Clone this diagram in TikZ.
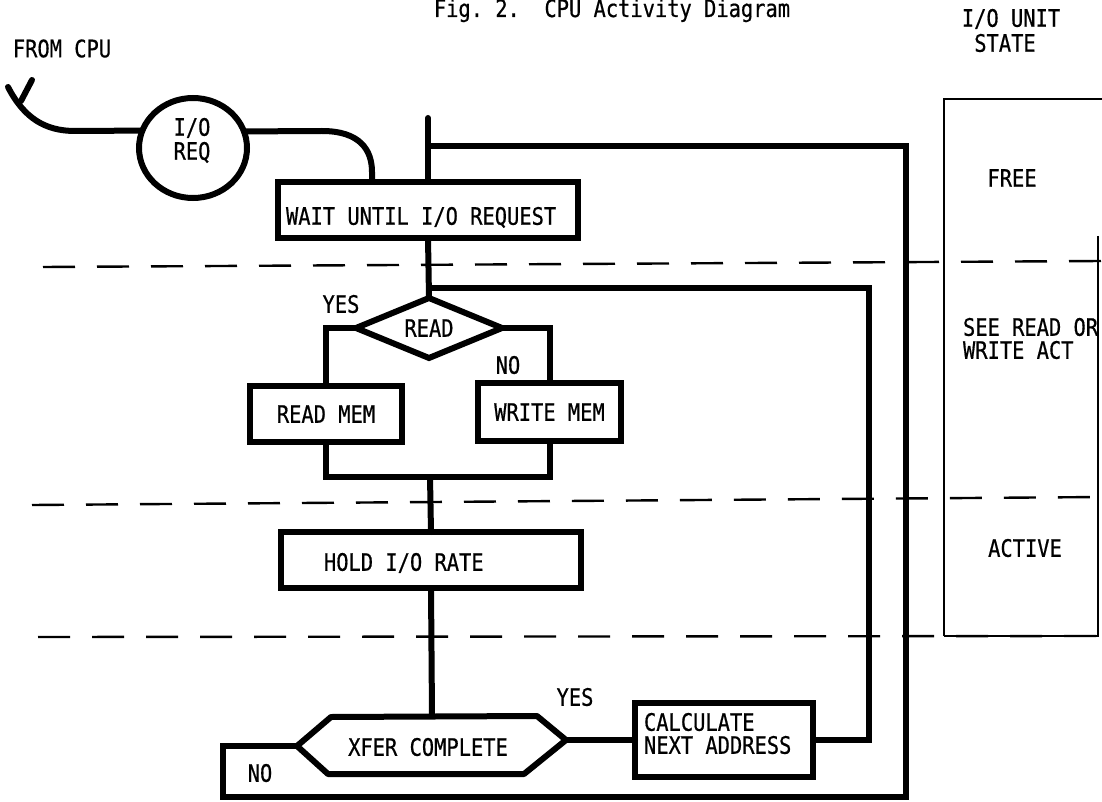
\documentclass[tikz,border=0pt]{standalone}
\usepackage{fontspec}
\newfontfamily\tw[FakeStretch=0.85,FakeBold=0.6]{DejaVu Sans Mono}
\usetikzlibrary{shapes.geometric}
\begin{document}
\begin{tikzpicture}[x=1pt,y=-1pt,
  every node/.style={font={\tw\fontsize{24pt}{25pt}\selectfont\frenchspacing}, inner sep=0pt, outer sep=0pt},
  lbl/.style={text height=17.5pt, text depth=0pt},
  flow/.style={line width=6pt, line cap=round},
  edge/.style={line width=6pt},
  box/.style={draw, line width=6pt},
  sep/.style={line width=2.4pt, dash pattern=on 32pt off 22pt},
  col/.style={line width=2pt}]
\useasboundingbox (0,0) rectangle (1102,802);

% titles
\node[anchor=base] (title) at (612,17) {Fig. 2.\ \ CPU Activity Diagram};
\node[lbl] (fromcpu) at (62,48.5) {FROM CPU};
\node[lbl] (unit1) at (1011,18) {I/O UNIT};
\node[lbl] (unit2) at (1005,43) {STATE};

% state column
\draw[col] (944,636) -- (944,99) -- (1102,99);
\draw[col] (1098,236) -- (1098,636) -- (944,636);
\node[lbl] (free) at (1012,178) {FREE};
\node[lbl, anchor=west] (see1) at (963,327) {SEE READ OR};
\node[lbl, anchor=west] (see2) at (963,350) {WRITE ACT};
\node[lbl] (active) at (1025,548) {ACTIVE};

% dashed separators
\draw[sep] (43,267) -- (1102,261);
\draw[sep] (32,505) -- (1102,497);
\draw[sep] (38,637) -- (1102,636);

% I/O request
\node[draw, ellipse, line width=6pt, minimum width=108pt, minimum height=100pt] (ioreq) at (193,148) {};
\node[lbl] (ioreq1) at (192,127) {I/O};
\node[lbl] (ioreq2) at (192,151) {REQ};

% boxes
\node[box, minimum width=300pt, minimum height=56pt] (wait) at (428,210) {};
\node[lbl, anchor=west] (waitt) at (286,216) {WAIT UNTIL I/O REQUEST};
\node[draw, diamond, line width=6pt, lbl, shape aspect=2.4, minimum width=146pt, minimum height=60pt] (dia) at (429,328) {READ};
\node[box, lbl, minimum width=152pt, minimum height=56pt] (rmem) at (326,414) {READ MEM};
\node[box, lbl, minimum width=143pt, minimum height=58pt] (wmem) at (549.5,412) {WRITE MEM};
\node[box, minimum width=300pt, minimum height=56pt] (hold) at (431,560) {};
\node[lbl, anchor=west] (holdt) at (324,562) {HOLD I/O RATE};
\node[box, minimum width=178pt, minimum height=74pt] (calc) at (724,740) {};
\node[lbl, anchor=west] (calc1) at (644,722) {CALCULATE};
\node[lbl, anchor=west] (calc2) at (644,745) {NEXT ADDRESS};

% XFER hexagon
\coordinate (xferW) at (297,746);
\coordinate (xferE) at (566,740);
\coordinate (xferT) at (432,716);
\draw[line width=6pt, line join=round] (xferW) -- (331,717) -- (537,716) -- (xferE) -- (524,774) -- (328,774) -- cycle;
\node[lbl] (xfer) at (428,747) {XFER COMPLETE};

% branch labels
\node[lbl] (yes1) at (341,304) {YES};
\node[lbl] (no1) at (508,365) {NO};
\node[lbl] (yes2) at (575,697) {YES};
\node[lbl] (no2) at (260,773) {NO};

% coordinates
\coordinate (top) at (428,118);
\coordinate (loopTL) at (428,146);
\coordinate (loopTR) at (906,146);
\coordinate (loopBR) at (906,797);
\coordinate (loopBL) at (223,797);
\coordinate (innerTL) at (428,288);
\coordinate (innerTR) at (869,288);
\coordinate (joinc) at (430,477);
\coordinate (wtop) at (372,182);
\coordinate (tail) at (8,87);
\coordinate (tickA) at (32,80);
\coordinate (tickB) at (21,101);

% connectors
\draw[flow] (ioreq.161.5) -- (75,131) .. controls (45,131) and (24,118) .. (tail);
\draw[flow] (tickA) -- (tickB);
\draw[flow] (ioreq.18.5) -- (322,131) .. controls (360,131) and (372,150) .. (372,172) -- (wtop);
\draw[flow] (top) -- (wait.north);
\draw[flow] (wait.south) -- (dia.north);
\draw[edge] (dia.west) -| (rmem.north);
\draw[edge] (dia.east) -| (wmem.north);
\draw[edge] (rmem.south) |- (joinc) -| (wmem.south);
\draw[flow] (joinc) -- (hold.north);
\draw[flow] (hold.south) -- (xferT);
\draw[flow] (xferE) -- (calc.west);
\draw[edge] (calc.east) -| (innerTR) -- (innerTL);
\draw[edge] (xferW) -| (loopBL) -- (loopBR) -- (loopTR) -- (loopTL);
\end{tikzpicture}
\end{document}
